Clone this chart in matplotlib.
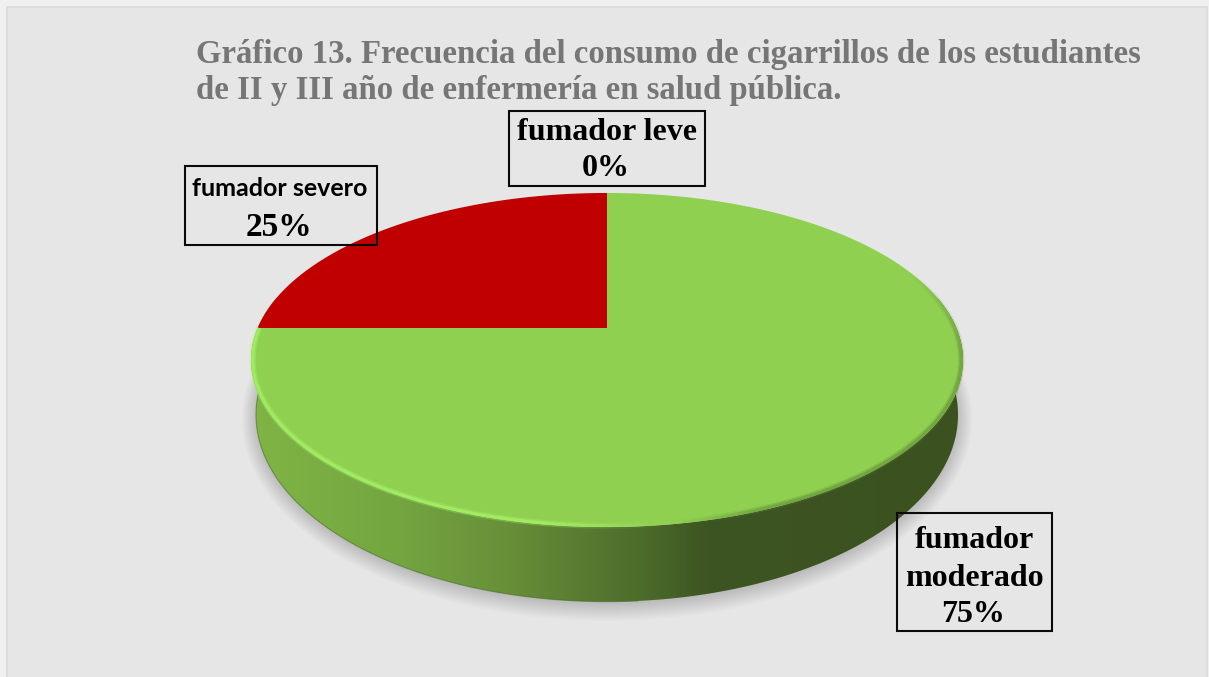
import numpy as np
import matplotlib
matplotlib.use("Agg")
import matplotlib.pyplot as plt
from matplotlib.patches import Polygon, Rectangle
from matplotlib.collections import LineCollection
from matplotlib.colors import LinearSegmentedColormap, to_rgb

# ---- data -------------------------------------------------------------
categories = ["fumador leve", "fumador moderado", "fumador severo"]
values = [0, 75, 25]
slice_colors = ["#4F81BD", "#90D051", "#C00000"]
title_lines = ["Gráfico 13. Frecuencia del consumo de cigarrillos de los estudiantes",
               "de II y III año de enfermería en salud pública."]

# ---- figure -----------------------------------------------------------
W, H = 1209, 677
fig = plt.figure(figsize=(W / 100, H / 100), dpi=100, facecolor="#F0F0F0")
ax = fig.add_axes([0, 0, 1, 1])
ax.set_xlim(0, W)
ax.set_ylim(H, 0)
ax.axis("off")
ax.add_patch(Rectangle((6.5, 7), 1200, 680, fc="#E6E6E6", ec="#DADADA", lw=1.2, zorder=0))

CX, K = 607.0, 0.1916


def project(theta, cy, R, S):
    u, v = np.cos(theta), np.sin(theta)
    w = 1 + K * v
    return CX + R * u / w, cy - S * v / w


TOP = dict(cy=328.0, R=349.4, S=160.9)
BOT = dict(cy=379.0, R=344.5, S=180.0)

# slice angles: clockwise from 12 o'clock
fracs = np.array(values, float) / np.sum(values)
edges = np.concatenate([[0], np.cumsum(fracs)])
starts = np.pi / 2 - 2 * np.pi * edges[:-1]
ends = np.pi / 2 - 2 * np.pi * edges[1:]

# soft shadow under the disc
tt = np.linspace(0, 2 * np.pi, 400)
for g in np.linspace(14, 0, 14):
    x, y = project(tt, BOT["cy"] + 2, BOT["R"] + g, BOT["S"] + g)
    ax.add_patch(Polygon(np.c_[x, y], fc="black", ec="none", alpha=0.013, zorder=1))

# side wall of every visible slice
wall_cmap = LinearSegmentedColormap.from_list("wall", [
    (0.00, "#80B545"), (0.21, "#73A540"), (0.36, "#688F39"), (0.45, "#5B7E32"),
    (0.55, "#4C6C2B"), (0.64, "#3D5522"), (1.00, "#3B5220")])
grad = np.linspace(0, 1, 512).reshape(1, -1)
for s, e, v in zip(starts, ends, values):
    if v == 0:
        continue
    th = np.linspace(s, e, 500)
    th = th[np.sin(th) <= 0.2]
    if th.size < 2:
        continue
    xt, yt = project(th, **TOP)
    xb, yb = project(th, **BOT)
    poly = np.r_[np.c_[xt, yt], np.c_[xb, yb][::-1]]
    im = ax.imshow(grad, cmap=wall_cmap, extent=[250, 964, 640, 200], aspect="auto",
                   interpolation="bilinear", zorder=2)
    im.set_clip_path(Polygon(poly, closed=True, transform=ax.transData))
    ax.plot(xb[xb < 640], yb[xb < 640], color="#4C6E28", lw=0.8, alpha=0.6, zorder=2.5)

ax.set_xlim(0, W)
ax.set_ylim(H, 0)

# top face slices
for s, e, v, c in zip(starts, ends, values, slice_colors):
    if v == 0:
        continue
    th = np.linspace(s, e, 500)
    x, y = project(th, **TOP)
    pts = np.r_[[[CX, TOP["cy"]]], np.c_[x, y]]
    ax.add_patch(Polygon(pts, closed=True, fc=c, ec="none", zorder=3))

# bevel on the rim of the green slice
mod = categories.index("fumador moderado")
th = np.linspace(starts[mod], ends[mod], 900)
x, y = project(th, TOP["cy"], TOP["R"] * 0.995, TOP["S"] * 0.993)
segs = np.stack([np.c_[x[:-1], y[:-1]], np.c_[x[1:], y[1:]]], axis=1)
xm = 0.5 * (x[:-1] + x[1:])
sn = np.sin(th[:-1])
light = np.clip((660 - xm) / 120, 0, 1) * (sn < 0.15)
dark = np.clip((xm - 680) / 90, 0, 1) * np.clip((0.35 - sn) / 0.5, 0, 1)
for lw, a in ((4.5, 0.3), (2.2, 0.7)):
    rgba = np.zeros((len(segs), 4))
    rgba[:, :3] = to_rgb("#A8F56A")
    rgba[:, 3] = light * a
    ax.add_collection(LineCollection(segs, colors=rgba, linewidths=lw, zorder=4))
for lw, a in ((4.5, 0.25), (2.2, 0.45)):
    rgba = np.zeros((len(segs), 4))
    rgba[:, :3] = to_rgb("#5E8A34")
    rgba[:, 3] = dark * a
    ax.add_collection(LineCollection(segs, colors=rgba, linewidths=lw, zorder=4))

# ---- text -------------------------------------------------------------
serif = "Liberation Serif"
sans = "Lato"
ax.text(196, 55, title_lines[0], family=serif, weight="bold", size=23.6, color="#767676",
        ha="left", va="center", zorder=6)
ax.text(196, 91, title_lines[1], family=serif, weight="bold", size=23.6, color="#767676",
        ha="left", va="center", zorder=6)


def box(x0, y0, x1, y1):
    ax.add_patch(Rectangle((x0, y0), x1 - x0, y1 - y0, fc="none", ec="#0A0A0A", lw=1.5, zorder=7))


pct = [f"{v}%" for v in values]
box(509, 111, 705, 186)
ax.text(607, 132, categories[0], family=serif, weight="bold", size=23, ha="center", va="center", zorder=8)
ax.text(606, 168, pct[0], family=serif, weight="bold", size=23, ha="center", va="center", zorder=8)

box(184.5, 166, 376.5, 245)
ax.text(280, 189, categories[2], family=sans, weight="bold", size=18, ha="center", va="center", zorder=8)
ax.text(279, 227, pct[2], family=serif, weight="bold", size=24, ha="center", va="center", zorder=8)

box(897, 513, 1052, 631)
word_a, word_b = categories[1].split(" ")
ax.text(974, 540, word_a, family=serif, weight="bold", size=23, ha="center", va="center", zorder=8)
ax.text(974, 578, word_b, family=serif, weight="bold", size=23, ha="center", va="center", zorder=8)
ax.text(973, 614, pct[1], family=serif, weight="bold", size=23, ha="center", va="center", zorder=8)

fig.savefig("out.png", dpi=100, facecolor=fig.get_facecolor())
